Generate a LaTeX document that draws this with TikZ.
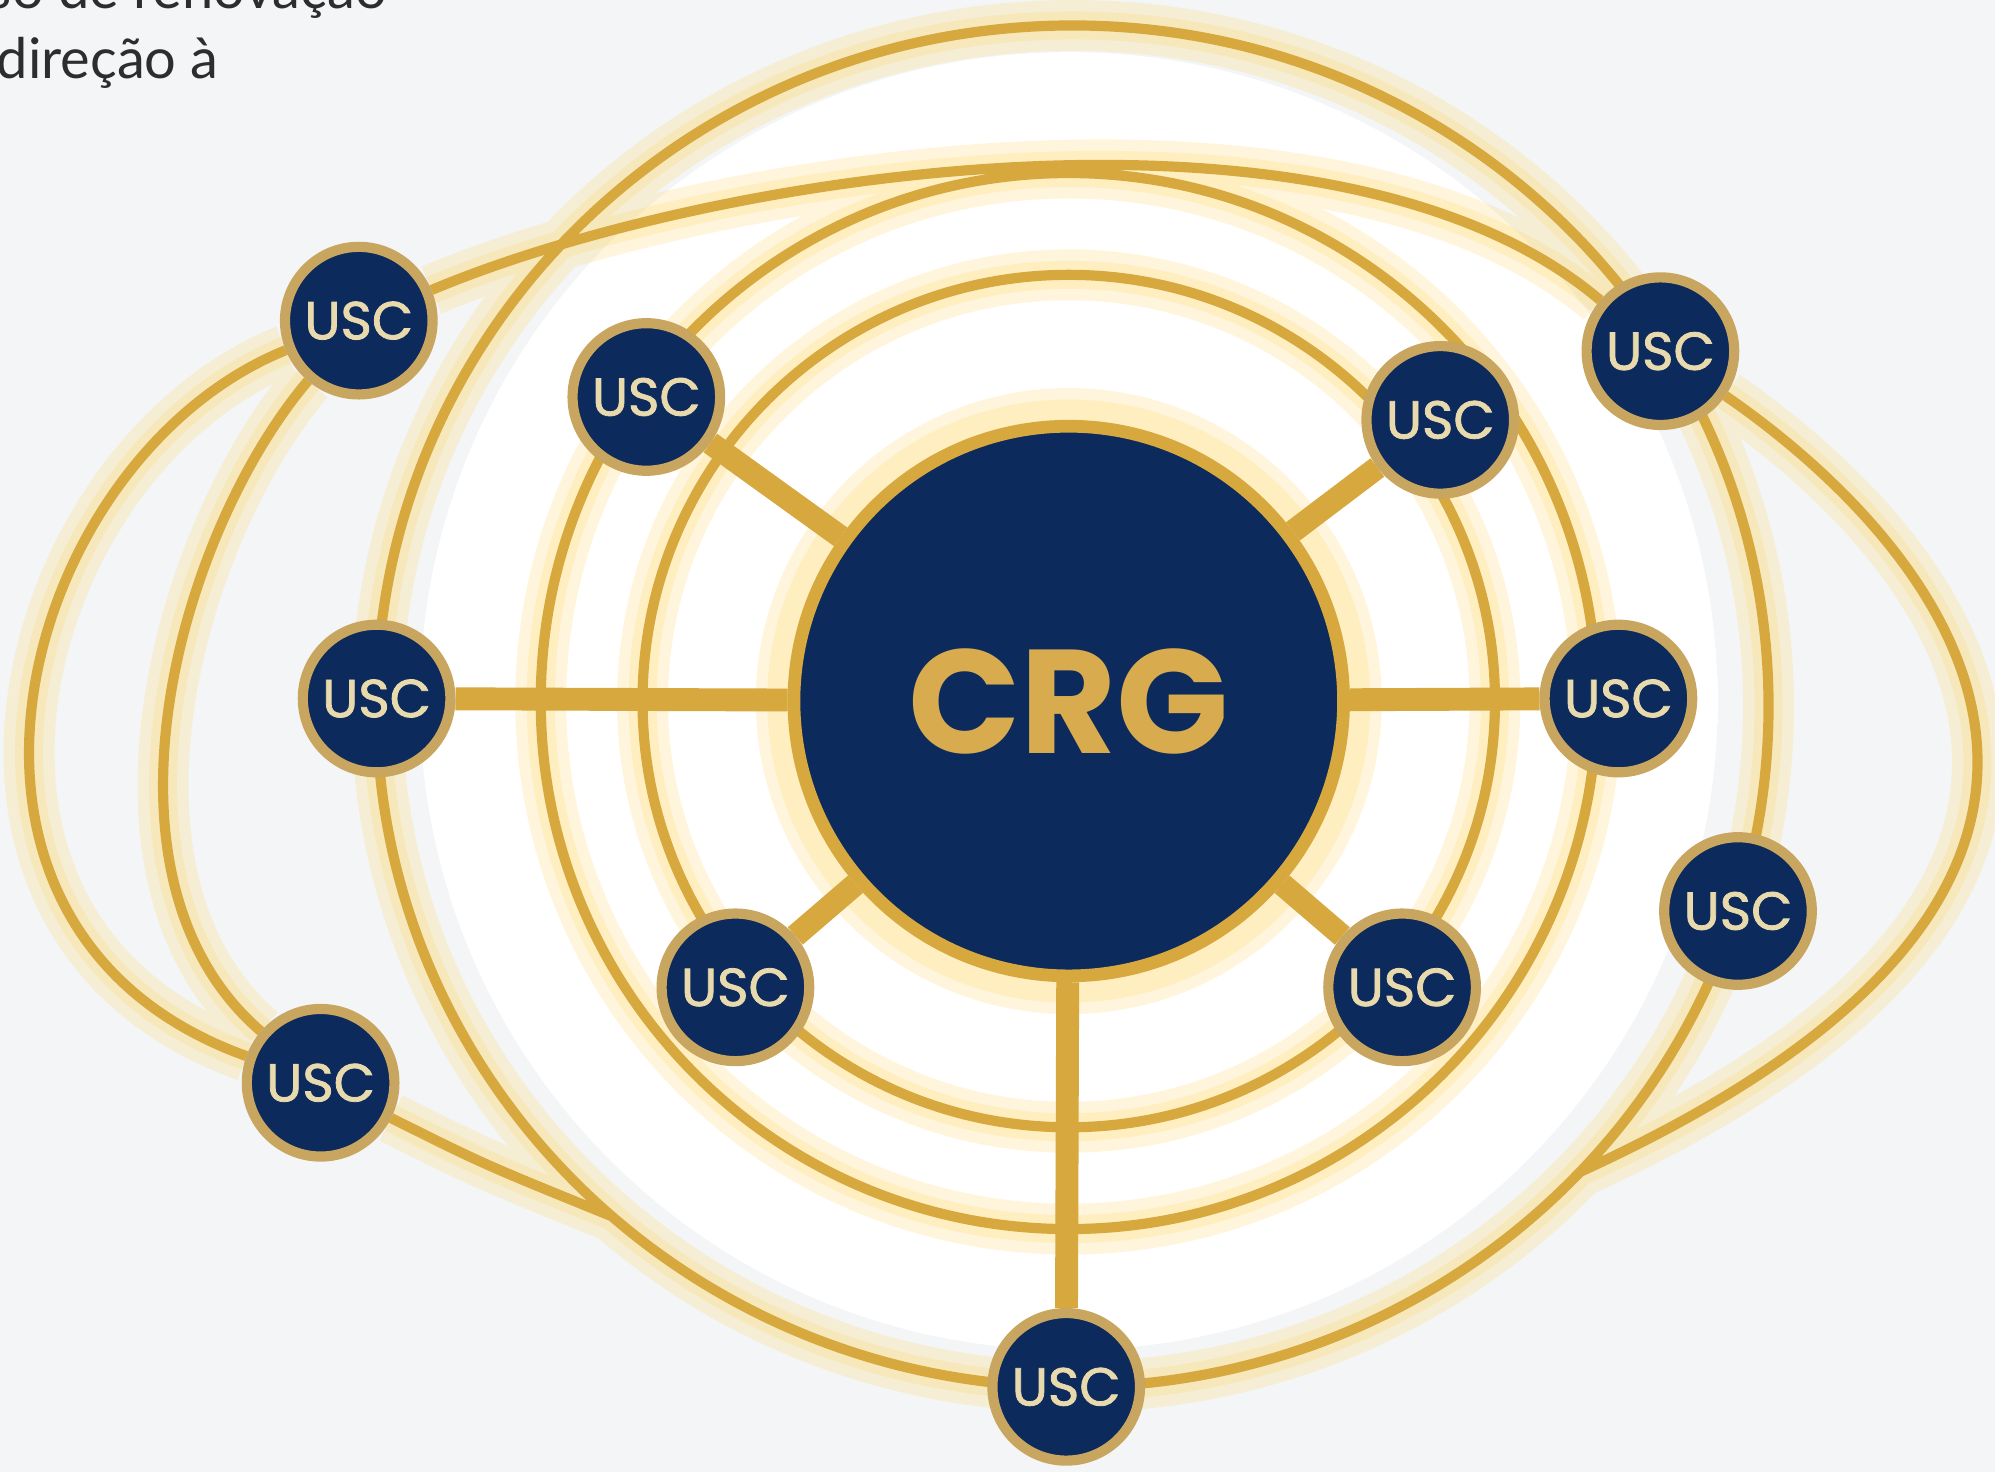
\documentclass[tikz,border=0pt]{standalone}
\usepackage{fontspec}
\setmainfont{Poppins}
\newfontfamily\capfont{Lato}
\newfontfamily\uscfont[FakeBold=1.5]{Poppins}

\definecolor{bgc}{RGB}{243,245,247}
\definecolor{gold}{RGB}{214,168,62}
\definecolor{ringgold}{RGB}{201,166,96}
\definecolor{navy}{RGB}{12,42,92}
\definecolor{usctext}{RGB}{232,218,172}
\definecolor{crgtext}{RGB}{216,172,78}
\definecolor{glowc}{RGB}{255,214,96}
\definecolor{cream}{RGB}{255,246,212}
\definecolor{captext}{RGB}{45,45,45}

\pgfdeclareradialshading{halo}{\pgfpoint{0bp}{0bp}}{color(0bp)=(white); color(29bp)=(white); color(38bp)=(cream); color(42bp)=(cream); color(50bp)=(bgc)}

\pgfdeclarelayer{bg}
\pgfdeclarelayer{glow}
\pgfdeclarelayer{lines}
\pgfsetlayers{bg,glow,lines,main}

\tikzset{
	usc/.style={circle, draw=ringgold, line width=4pt, fill=navy, minimum size=58pt, inner sep=0pt, text=usctext, font=\uscfont\fontsize{21}{21}\selectfont},
	hub/.style={circle, draw=gold, line width=5pt, fill=navy, minimum size=216pt, inner sep=0pt, text=crgtext, font=\bfseries\fontsize{58}{58}\selectfont},
	orbit/.style={draw=gold, line width=4pt},
	spoke/.style={draw=gold, line width=9pt},
	haloline/.style={draw=glowc, line width=#1, opacity=.22},
	caption/.style={anchor=base west, inner sep=0pt, text=captext, font=\capfont\fontsize{22}{22}\selectfont},
}

% rings and loops around the hub
\newcommand{\orbitpaths}{
	(crg.center) circle[radius=335]
	(crg.center) circle[radius=415]
	(orbitc) ellipse[x radius=547, y radius=535]
	(usc-nw2) .. controls (560,135) and (1050,60) .. (usc-ne2)
	(usc-nw2) .. controls (15,360) and (-85,730) .. (usc-sw2)
	(usc-nw2) .. controls (140,420) and (65,690) .. (usc-sw2)
	(usc-sw2) .. controls (380,915) .. (mergeSW)
	(usc-ne2) .. controls (1500,410) and (1770,680) .. (mergeSE)
}

\begin{document}
\begin{tikzpicture}[x=0.5pt, y=-0.5pt]
	\useasboundingbox (0,0) rectangle (1568,1157);
	\clip (0,0) rectangle (1568,1157);

	\node[caption] (cap1) at (-10,7) {so de renovação};
	\node[caption] (cap2) at (-3,61.5) {direção à};

	\node[hub] (crg) at (840,551) {CRG};
	\node[usc] (usc-nw2) at (282,252) {USC};
	\node[usc] (usc-nw1) at (508,312) {USC};
	\node[usc] (usc-ne1) at (1132,330) {USC};
	\node[usc] (usc-ne2) at (1305,276) {USC};
	\node[usc] (usc-w) at (296,549) {USC};
	\node[usc] (usc-e) at (1272,549) {USC};
	\node[usc] (usc-e2) at (1366,716) {USC};
	\node[usc] (usc-sw1) at (578,776) {USC};
	\node[usc] (usc-se1) at (1102,776) {USC};
	\node[usc] (usc-sw2) at (252,851) {USC};
	\node[usc] (usc-s) at (838,1090) {USC};
	\coordinate (orbitc) at (843,555);
	\coordinate (mergeSW) at (481,956);
	\coordinate (mergeSE) at (1242,921);

	\begin{pgfonlayer}{bg}
		\fill[bgc] (0,0) rectangle (1568,1157);
		\shade[shading=halo] (crg.center) circle[radius=510];
	\end{pgfonlayer}

	\begin{pgfonlayer}{glow}
		\path[haloline=20pt] \orbitpaths (crg.center) circle[radius=226];
		\path[haloline=11pt] \orbitpaths (crg.center) circle[radius=226];
	\end{pgfonlayer}

	\begin{pgfonlayer}{lines}
		\draw[orbit] \orbitpaths;
		\foreach \u in {usc-nw1,usc-ne1,usc-w,usc-e,usc-sw1,usc-se1,usc-s}
			\draw[spoke] (crg) -- (\u);
	\end{pgfonlayer}
\end{tikzpicture}
\end{document}
